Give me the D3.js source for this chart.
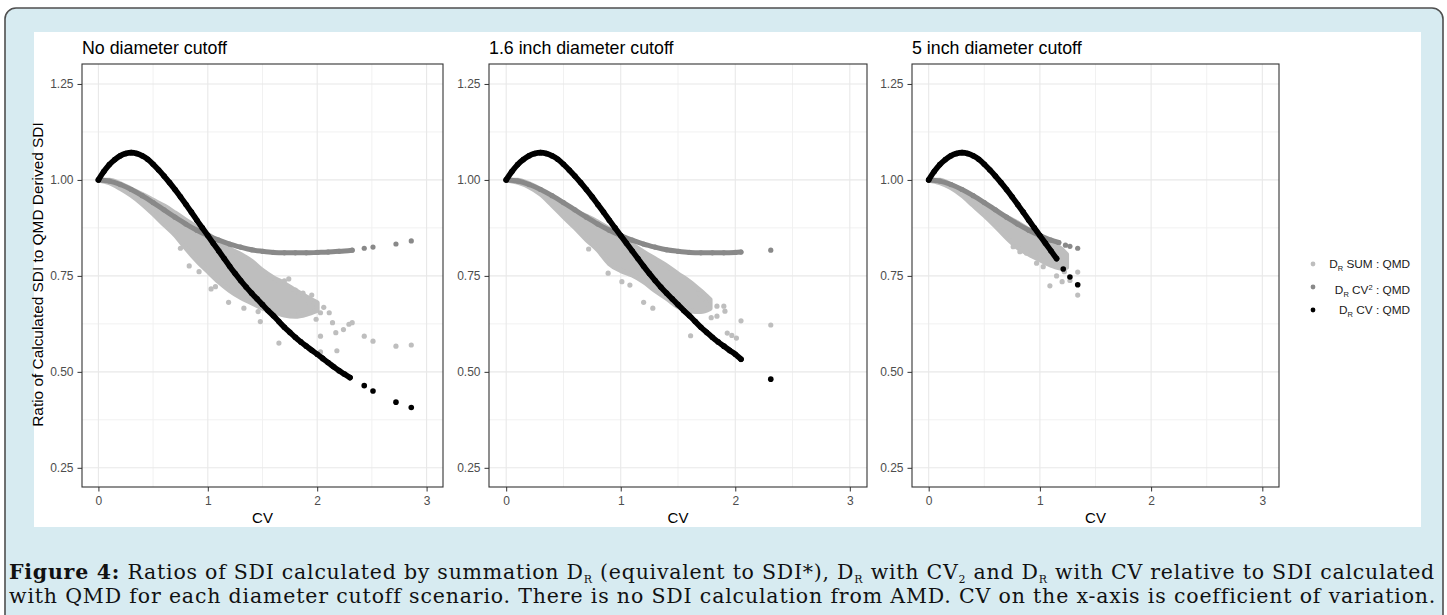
<!DOCTYPE html>
<html>
<head>
<meta charset="utf-8">
<script src="https://cdn.jsdelivr.net/npm/d3@7"></script>
<style>
  body { margin: 0; background: #fff; }
  svg { display: block; font-family: "Liberation Sans", Arial, sans-serif; }
  .tick text { fill: #4d4d4d; font-size: 12px; font-family: "Liberation Sans", Arial, sans-serif; }
  .tick line { stroke: #333; }
</style>
</head>
<body>
<div id="wrapper"></div>
<script>
// ---- data ----

const panelTitles = ["No diameter cutoff", "1.6 inch diameter cutoff", "5 inch diameter cutoff"];
const xTicks = [0, 1, 2, 3];
const yTicks = [0.25, 0.50, 0.75, 1.00, 1.25];
const xLabel = "CV";
const yLabel = "Ratio of Calculated SDI to QMD Derived SDI";

// [cv, ratio] for D_R CV : QMD (dense run + isolated tail)
const cvNone = [
  [0.00,1.000],[0.05,1.022],[0.10,1.040],[0.15,1.053],[0.20,1.063],[0.25,1.069],[0.30,1.071],
  [0.35,1.069],[0.40,1.063],[0.45,1.054],[0.50,1.041],[0.55,1.026],[0.60,1.010],[0.65,0.993],
  [0.70,0.975],[0.75,0.956],[0.80,0.936],[0.85,0.916],[0.90,0.895],[0.95,0.875],[1.00,0.855],
  [1.05,0.835],[1.10,0.815],[1.15,0.795],[1.20,0.775],[1.25,0.756],[1.30,0.738],[1.35,0.721],
  [1.40,0.705],[1.45,0.690],[1.50,0.675],[1.55,0.660],[1.60,0.646],[1.65,0.631],[1.70,0.616],
  [1.75,0.603],[1.80,0.590],[1.85,0.578],[1.90,0.567],[1.95,0.556],[2.00,0.546],[2.05,0.535],
  [2.10,0.524],[2.15,0.513],[2.20,0.503],[2.25,0.494],[2.30,0.485]
];
const cvNoneTail = [[2.43,0.464],[2.51,0.450],[2.72,0.421],[2.86,0.407]];

const cvCut16 = [
  [0.00,1.000],[0.05,1.022],[0.10,1.040],[0.15,1.053],[0.20,1.063],[0.25,1.069],[0.30,1.071],
  [0.35,1.069],[0.40,1.063],[0.45,1.054],[0.50,1.041],[0.55,1.026],[0.60,1.010],[0.65,0.993],
  [0.70,0.975],[0.75,0.956],[0.80,0.936],[0.85,0.916],[0.90,0.895],[0.95,0.875],[1.00,0.855],
  [1.05,0.835],[1.10,0.815],[1.15,0.795],[1.20,0.775],[1.25,0.756],[1.30,0.738],[1.35,0.721],
  [1.40,0.705],[1.45,0.690],[1.50,0.675],[1.55,0.660],[1.60,0.646],[1.65,0.631],[1.70,0.616],
  [1.75,0.603],[1.80,0.590],[1.85,0.578],[1.90,0.567],[1.95,0.556],[2.00,0.546],[2.05,0.533]
];
const cvCut16Tail = [[2.31,0.481]];

const cvCut5 = [
  [0.00,1.000],[0.05,1.022],[0.10,1.040],[0.15,1.053],[0.20,1.063],[0.25,1.069],[0.30,1.071],
  [0.35,1.069],[0.40,1.063],[0.45,1.054],[0.50,1.041],[0.55,1.026],[0.60,1.010],[0.65,0.993],
  [0.70,0.975],[0.75,0.956],[0.80,0.936],[0.85,0.916],[0.90,0.895],[0.95,0.875],[1.00,0.855],
  [1.05,0.835],[1.10,0.815],[1.15,0.795]
];
const cvCut5Tail = [[1.21,0.768],[1.27,0.747],[1.34,0.727]];

// [cv, ratio] for D_R CV^2 : QMD
const cv2None = [
  [0.00,1.000],[0.10,0.997],[0.20,0.988],[0.30,0.975],[0.40,0.959],[0.50,0.941],[0.60,0.922],
  [0.70,0.903],[0.80,0.885],[0.90,0.869],[1.00,0.855],[1.10,0.843],[1.20,0.833],[1.30,0.825],
  [1.40,0.818],[1.50,0.814],[1.60,0.811],[1.70,0.810],[1.80,0.810],[1.90,0.810],[2.00,0.811],
  [2.10,0.812],[2.20,0.814],[2.32,0.817]
];
const cv2NoneTail = [[2.43,0.822],[2.51,0.825],[2.72,0.833],[2.86,0.841]];

const cv2Cut16 = [
  [0.00,1.000],[0.10,0.997],[0.20,0.988],[0.30,0.975],[0.40,0.959],[0.50,0.941],[0.60,0.922],
  [0.70,0.903],[0.80,0.885],[0.90,0.869],[1.00,0.855],[1.10,0.843],[1.20,0.833],[1.30,0.825],
  [1.40,0.818],[1.50,0.814],[1.60,0.811],[1.70,0.810],[1.80,0.810],[1.90,0.810],[2.00,0.811],
  [2.05,0.812]
];
const cv2Cut16Tail = [[2.31,0.817]];

const cv2Cut5 = [
  [0.00,1.000],[0.10,0.997],[0.20,0.988],[0.30,0.975],[0.40,0.959],[0.50,0.941],[0.60,0.922],
  [0.70,0.903],[0.80,0.885],[0.90,0.869],[1.00,0.855],[1.10,0.843],[1.17,0.837]
];
const cv2Cut5Tail = [[1.23,0.830],[1.27,0.827],[1.34,0.822]];

// [cv, low, high] dense core of D_R SUM : QMD points
const sumBandNone = [
  [0.00,1.000,1.000],[0.10,0.993,0.999],[0.20,0.978,0.990],[0.30,0.960,0.976],[0.40,0.938,0.962],
  [0.50,0.912,0.947],[0.60,0.884,0.932],[0.70,0.857,0.914],[0.80,0.822,0.895],[0.90,0.790,0.876],
  [1.00,0.762,0.858],[1.10,0.735,0.838],[1.20,0.712,0.820],[1.30,0.694,0.806],[1.40,0.680,0.788],
  [1.50,0.666,0.764],[1.60,0.658,0.745],[1.70,0.648,0.730],[1.80,0.645,0.712],[1.90,0.650,0.695],
  [2.00,0.660,0.680]
];
const sumBandCut16 = [
  [0.00,1.000,1.000],[0.10,0.994,0.999],[0.20,0.982,0.990],[0.30,0.963,0.975],[0.40,0.935,0.950],
  [0.50,0.905,0.934],[0.60,0.876,0.918],[0.70,0.845,0.905],[0.80,0.818,0.890],[0.90,0.782,0.872],
  [1.00,0.764,0.855],[1.10,0.752,0.832],[1.20,0.735,0.812],[1.30,0.712,0.794],[1.40,0.692,0.776],
  [1.50,0.670,0.755],[1.60,0.660,0.735],[1.70,0.657,0.710],[1.78,0.665,0.688]
];
const sumBandCut5 = [
  [0.00,1.000,1.000],[0.10,0.993,0.999],[0.20,0.980,0.988],[0.30,0.960,0.972],[0.40,0.934,0.950],
  [0.50,0.908,0.932],[0.60,0.880,0.918],[0.70,0.850,0.903],[0.80,0.824,0.888],[0.90,0.807,0.870],
  [1.00,0.792,0.855],[1.10,0.778,0.836],[1.20,0.770,0.818],[1.24,0.772,0.806]
];

// [cv, ratio] scattered D_R SUM : QMD points outside the core
const sumPointsNone = [
  [0.75,0.822],[0.83,0.776],[0.92,0.761],[1.03,0.716],[1.07,0.722],[1.19,0.681],[1.33,0.666],
  [1.46,0.657],[1.48,0.631],[1.65,0.575],[1.70,0.737],[1.77,0.715],[1.80,0.713],[1.83,0.654],
  [1.87,0.705],[1.93,0.680],[1.98,0.680],[1.99,0.637],[2.03,0.654],[2.03,0.593],[2.03,0.552],
  [2.11,0.654],[2.14,0.628],[2.17,0.602],[2.18,0.555],[2.24,0.610],[2.29,0.624],[2.32,0.628],
  [2.43,0.593],[2.51,0.580],[2.72,0.567],[2.86,0.570],[2.06,0.668],[1.95,0.700],[1.74,0.742]
];
const sumPointsCut16 = [
  [0.72,0.820],[0.89,0.757],[1.01,0.735],[1.08,0.726],[1.20,0.681],[1.28,0.666],[1.61,0.594],
  [1.69,0.704],[1.72,0.691],[1.77,0.674],[1.84,0.671],[1.90,0.671],[1.91,0.658],[1.84,0.645],
  [1.79,0.641],[1.93,0.601],[1.97,0.595],[2.01,0.588],[2.05,0.633],[2.31,0.622]
];
const sumPointsCut5 = [
  [0.76,0.826],[0.82,0.813],[0.88,0.809],[0.97,0.783],[1.03,0.774],[1.09,0.724],[1.15,0.750],
  [1.17,0.774],[1.20,0.735],[1.22,0.761],[1.27,0.738],[1.34,0.760],[1.34,0.700]
];

const legendLabels = [
  [{ t: "D" }, { t: "R", sub: true }, { t: " SUM : QMD" }],
  [{ t: "D" }, { t: "R", sub: true }, { t: " CV" }, { t: "2", sup: true }, { t: " : QMD" }],
  [{ t: "D" }, { t: "R", sub: true }, { t: " CV : QMD" }]
];

const captionLines = [
  [{ t: "Figure 4:", b: true }, { t: " Ratios of SDI calculated by summation D" }, { t: "R", sub: true },
   { t: " (equivalent to SDI*), D" }, { t: "R", sub: true }, { t: " with CV" }, { t: "2", sub: true },
   { t: " and D" }, { t: "R", sub: true }, { t: " with CV relative to SDI calculated" }],
  [{ t: "with QMD for each diameter cutoff scenario. There is no SDI calculation from AMD. CV on the x-axis is coefficient of variation." }]
];

async function drawChart() {

  // 1. Dimensions

  const dimensions = {
    width: 1447,
    height: 615,
    plotTop: 64,
    plotBottom: 487,
  };
  const panelSpans = [[82, 443], [489, 867], [912, 1279]];
  const colors = { sum: "#bebebe", cv2: "#898989", cv: "#000000" };

  const panels = panelTitles.map((title, i) => ({
    title,
    span: panelSpans[i],
    cv: [cvNone, cvCut16, cvCut5][i],
    cvTail: [cvNoneTail, cvCut16Tail, cvCut5Tail][i],
    cv2: [cv2None, cv2Cut16, cv2Cut5][i],
    cv2Tail: [cv2NoneTail, cv2Cut16Tail, cv2Cut5Tail][i],
    band: [sumBandNone, sumBandCut16, sumBandCut5][i],
    sum: [sumPointsNone, sumPointsCut16, sumPointsCut5][i],
  }));

  // 2. Canvas

  const svg = d3.select("#wrapper")
    .append("svg")
      .attr("width", dimensions.width)
      .attr("height", dimensions.height);

  svg.append("rect")
      .attr("x", 5).attr("y", 8)
      .attr("width", 1438).attr("height", 700)
      .attr("rx", 11)
      .attr("fill", "#d7ebf1")
      .attr("stroke", "#4f4f4f")
      .attr("stroke-width", 1.6);

  svg.append("rect")
      .attr("x", 34).attr("y", 32)
      .attr("width", 1387).attr("height", 495)
      .attr("fill", "#ffffff");

  // 3. Panels

  const yScale = d3.scaleLinear()
      .domain([0.2, 1.302])
      .range([dimensions.plotBottom, dimensions.plotTop]);

  const xMinor = d3.pairs(xTicks).map(d => d3.mean(d));
  const yMinor = d3.pairs(yTicks).map(d => d3.mean(d));

  const runs = pts => pts.length > 1 ? [pts] : [];

  panels.forEach(p => {
    const xScale = d3.scaleLinear()
        .domain([-0.15, 3.15])
        .range(p.span);

    const g = svg.append("g");

    // grid
    g.selectAll(".xminor").data(xMinor).join("line")
        .attr("x1", d => xScale(d)).attr("x2", d => xScale(d))
        .attr("y1", dimensions.plotTop).attr("y2", dimensions.plotBottom)
        .attr("stroke", "#f1f1f1").attr("stroke-width", 1);
    g.selectAll(".yminor").data(yMinor).join("line")
        .attr("x1", p.span[0]).attr("x2", p.span[1])
        .attr("y1", d => yScale(d)).attr("y2", d => yScale(d))
        .attr("stroke", "#f1f1f1").attr("stroke-width", 1);
    g.selectAll(".xmajor").data(xTicks).join("line")
        .attr("x1", d => xScale(d)).attr("x2", d => xScale(d))
        .attr("y1", dimensions.plotTop).attr("y2", dimensions.plotBottom)
        .attr("stroke", "#e8e8e8").attr("stroke-width", 1.1);
    g.selectAll(".ymajor").data(yTicks).join("line")
        .attr("x1", p.span[0]).attr("x2", p.span[1])
        .attr("y1", d => yScale(d)).attr("y2", d => yScale(d))
        .attr("stroke", "#e8e8e8").attr("stroke-width", 1.1);

    // D_R SUM : QMD, dense core then scatter
    const area = d3.area()
        .x(d => xScale(d[0]))
        .y0(d => yScale(d[1]))
        .y1(d => yScale(d[2]))
        .curve(d3.curveMonotoneX);
    g.append("path")
        .datum(p.band)
        .attr("d", area)
        .attr("fill", colors.sum)
        .attr("stroke", colors.sum)
        .attr("stroke-width", 5)
        .attr("stroke-linejoin", "round");
    g.append("g").selectAll("circle").data(p.sum).join("circle")
        .attr("cx", d => xScale(d[0]))
        .attr("cy", d => yScale(d[1]))
        .attr("r", 2.6)
        .attr("fill", colors.sum);

    const line = d3.line()
        .x(d => xScale(d[0]))
        .y(d => yScale(d[1]))
        .curve(d3.curveMonotoneX);

    // D_R CV^2 : QMD
    g.append("g").selectAll("path").data(runs(p.cv2)).join("path")
        .attr("d", line)
        .attr("fill", "none")
        .attr("stroke", colors.cv2)
        .attr("stroke-width", 5)
        .attr("stroke-linecap", "round");
    g.append("g").selectAll("circle").data(p.cv2.concat(p.cv2Tail)).join("circle")
        .attr("cx", d => xScale(d[0]))
        .attr("cy", d => yScale(d[1]))
        .attr("r", 2.6)
        .attr("fill", colors.cv2);

    // D_R CV : QMD
    g.append("g").selectAll("path").data(runs(p.cv)).join("path")
        .attr("d", line)
        .attr("fill", "none")
        .attr("stroke", colors.cv)
        .attr("stroke-width", 5.6)
        .attr("stroke-linecap", "round");
    g.append("g").selectAll("circle").data(p.cv.concat(p.cvTail)).join("circle")
        .attr("cx", d => xScale(d[0]))
        .attr("cy", d => yScale(d[1]))
        .attr("r", 2.8)
        .attr("fill", colors.cv);

    // panel border
    g.append("rect")
        .attr("x", p.span[0]).attr("y", dimensions.plotTop)
        .attr("width", p.span[1] - p.span[0])
        .attr("height", dimensions.plotBottom - dimensions.plotTop)
        .attr("fill", "none")
        .attr("stroke", "#333333")
        .attr("stroke-width", 1.1);

    // axes
    const yAxis = g.append("g")
        .attr("transform", `translate(${p.span[0]},0)`)
        .call(d3.axisLeft(yScale).tickValues(yTicks).tickFormat(d3.format(".2f")).tickSize(4.5).tickPadding(4));
    yAxis.select(".domain").remove();

    const xAxis = g.append("g")
        .attr("transform", `translate(0,${dimensions.plotBottom})`)
        .call(d3.axisBottom(xScale).tickValues(xTicks).tickFormat(d3.format("d")).tickSize(4.5).tickPadding(5));
    xAxis.select(".domain").remove();

    // titles
    g.append("text")
        .attr("x", p.span[0])
        .attr("y", 53.5)
        .attr("font-size", "17.8px")
        .attr("fill", "#000")
        .text(p.title);

    g.append("text")
        .attr("x", (p.span[0] + p.span[1]) / 2)
        .attr("y", 523)
        .attr("text-anchor", "middle")
        .attr("font-size", "15px")
        .attr("fill", "#000")
        .text(xLabel);
  });

  svg.append("text")
      .attr("transform", `translate(43,${(dimensions.plotTop + dimensions.plotBottom) / 2 - 1}) rotate(-90)`)
      .attr("text-anchor", "middle")
      .attr("font-size", "15.4px")
      .attr("fill", "#000")
      .text(yLabel);

  // 4. Legend

  const legendDotY = [264, 287, 310];
  const legendTextY = [267.5, 293.5, 313.5];
  const legendColors = [colors.sum, colors.cv2, colors.cv];

  const legend = svg.append("g");
  legend.selectAll("circle").data(legendLabels).join("circle")
      .attr("cx", 1313)
      .attr("cy", (d, i) => legendDotY[i])
      .attr("r", 2.4)
      .attr("fill", (d, i) => legendColors[i]);

  legend.selectAll("text").data(legendLabels).join("text")
      .attr("x", 1410)
      .attr("y", (d, i) => legendTextY[i])
      .attr("text-anchor", "end")
      .attr("font-size", "11.8px")
      .attr("fill", "#1a1a1a")
      .each(function(parts) {
        const t = d3.select(this);
        let shift = 0;
        parts.forEach(part => {
          const target = part.sub ? 3 : part.sup ? -4 : 0;
          t.append("tspan")
              .attr("dy", target - shift)
              .attr("font-size", part.sub || part.sup ? "7.5px" : null)
              .text(part.t);
          shift = target;
        });
      });

  // 5. Caption (spread to the frame width)

  const captionLeft = 9;
  const captionRight = 1435;
  const captionY = [579, 603];
  const subShift = 3.5;
  const captionFont = 20.5;

  const caption = svg.selectAll(".caption").data(captionLines).join("text")
      .attr("class", "caption")
      .attr("x", captionLeft)
      .attr("y", (d, i) => captionY[i])
      .attr("fill", "#111")
      .style("font-family", "'DejaVu Serif', serif")
      .style("font-size", `${captionFont}px`)
      .each(function(parts) {
        const t = d3.select(this);
        let shift = 0;
        parts.forEach(part => {
          const target = part.sub ? subShift : 0;
          t.append("tspan")
              .attr("dy", target - shift)
              .attr("font-weight", part.b ? "bold" : null)
              .style("font-size", part.sub ? "11px" : null)
              .text(part.t);
          shift = target;
        });
      });

  const target = captionRight - captionLeft;
  caption.each(function(parts) {
    const w = this.getComputedTextLength();
    const chars = parts.map(d => d.t).join("").length;
    d3.select(this).style("letter-spacing", `${(target - w) / chars}px`);
  });
}
drawChart();
</script>
</body>
</html>
